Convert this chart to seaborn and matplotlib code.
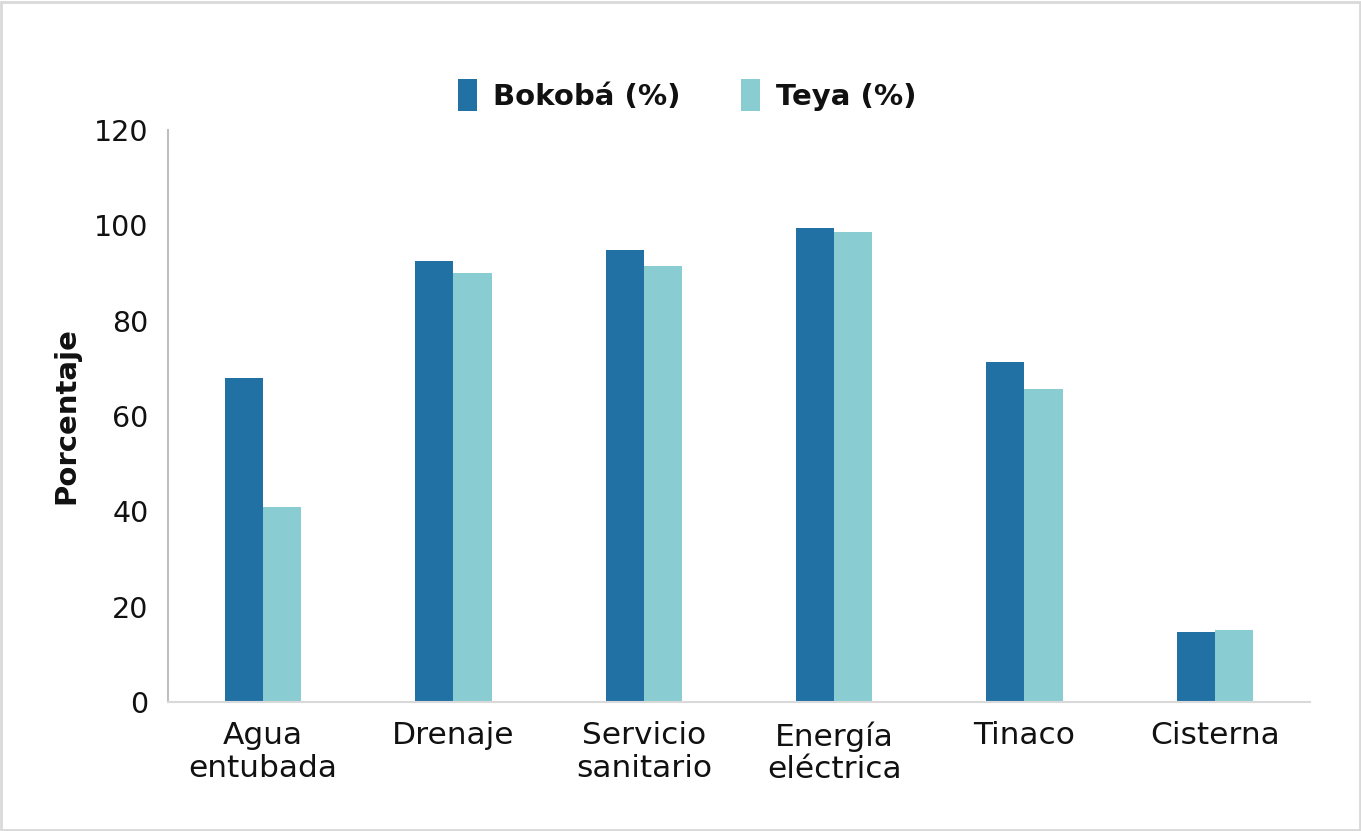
import pandas as pd
import seaborn as sns
import matplotlib.pyplot as plt
from matplotlib.patches import Rectangle

categorias = ['Agua\nentubada', 'Drenaje', 'Servicio\nsanitario', 'Energía\neléctrica', 'Tinaco', 'Cisterna']
bokoba = [68.0, 92.6, 94.9, 99.4, 71.3, 14.6]
teya = [41.0, 89.9, 91.5, 98.7, 65.7, 15.2]
series = ['Bokobá (%)', 'Teya (%)']
colores = ['#2271a4', '#89cdd2']

df = pd.DataFrame({
    'categoria': categorias * 2,
    'valor': bokoba + teya,
    'serie': [series[0]] * len(categorias) + [series[1]] * len(categorias),
})

sns.set_style('white')
plt.rcParams['font.family'] = ['DejaVu Sans']
plt.rcParams['text.color'] = '#111111'
plt.rcParams['axes.labelcolor'] = '#111111'

fig = plt.figure(figsize=(13.61, 8.31), dpi=100)
ax = fig.add_axes([0.1234, 0.1552, 0.8391, 0.6884])

sns.barplot(data=df, x='categoria', y='valor', hue='serie', palette=colores,
            width=0.4, gap=0, saturation=1, ax=ax, edgecolor='none')

ax.set_ylim(0, 120)
ax.set_xlim(-0.5, 5.5)
ax.set_yticks(range(0, 121, 20))
ax.tick_params(axis='both', length=0, colors='#111111')
ax.tick_params(axis='y', pad=14, labelsize=20.5)
ax.tick_params(axis='x', pad=14, labelsize=22.5)
for lab in ax.get_xticklabels():
    lab.set_linespacing(1.15)
ax.set_xlabel('')
ax.set_ylabel('Porcentaje', fontsize=21, fontweight='bold', labelpad=10)

sns.despine(ax=ax, top=True, right=True)
ax.spines['left'].set_color('#bfbfbf')
ax.spines['left'].set_linewidth(1.5)
ax.spines['bottom'].set_color('#d9d9d9')
ax.spines['bottom'].set_linewidth(1.5)

handles, labels = ax.get_legend_handles_labels()
ax.get_legend().remove()
fig.legend(handles, labels, loc='center', bbox_to_anchor=(0.505, 0.886), ncol=2,
           frameon=False, handlelength=0.65, handleheight=1.3, handletextpad=0.55,
           columnspacing=2.1, prop={'weight': 'bold', 'size': 21})

fig.patches.append(Rectangle((0.001, 0.001), 0.998, 0.996, transform=fig.transFigure,
                             fill=False, edgecolor='#d9d9d9', linewidth=2))

fig.savefig('out.png', dpi=100)
